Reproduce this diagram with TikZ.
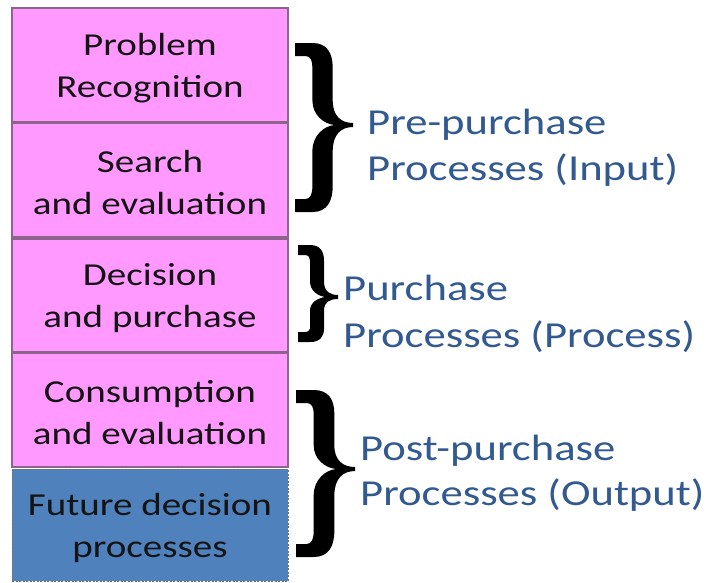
\documentclass[tikz,border=0pt]{standalone}
\usepackage{fontspec}
\setmainfont{Carlito}[FakeStretch=1.22]
\definecolor{boxpink}{RGB}{255,153,255}
\definecolor{boxline}{RGB}{140,100,140}
\definecolor{boxblue}{RGB}{79,129,189}
\definecolor{labelblue}{RGB}{50,90,145}
\definecolor{boxtext}{RGB}{20,20,20}
\newcommand{\drawbrace}[6]{%
 \pgfmathsetmacro{\bW}{#4-#1}%
 \pgfmathsetmacro{\xa}{#1+0.30*\bW}%
 \pgfmathsetmacro{\xb}{#1+0.65*\bW}%
 \pgfmathsetmacro{\xc}{#1+0.68*\bW}%
 \pgfmathsetmacro{\ct}{0.3*(#5-#2)}%
 \pgfmathsetmacro{\cb}{0.3*(#3-#5)}%
 \fill[black] (#1,#2) -- ({#1+0.3*\bW},#2)
   .. controls ({#1+0.55*\bW},#2) and (\xb,{#2+0.4*\ct}) .. (\xb,{#2+\ct})
   -- (\xb,{#5-\ct})
   .. controls (\xb,{#5-0.35*\ct}) and ({#1+0.8*\bW},{#5-2}) .. (#4,{#5-2})
   -- (#4,{#5+2})
   .. controls ({#1+0.8*\bW},{#5+2}) and (\xb,{#5+0.35*\cb}) .. (\xb,{#5+\cb})
   -- (\xb,{#3-\cb})
   .. controls (\xb,{#3-0.4*\cb}) and ({#1+0.55*\bW},#3) .. ({#1+0.3*\bW},#3)
   -- (#1,#3) -- (#1,{#3-#6}) -- ({#1+0.18*\bW},{#3-#6})
   .. controls ({#1+0.27*\bW},{#3-#6}) and (\xa,{#3-#6-0.2*\cb}) .. (\xa,{#3-\cb})
   -- (\xa,{#5+\cb})
   .. controls (\xa,{#5+0.4*\cb}) and ({#1+0.5*\bW},{#5+1}) .. (\xc,#5)
   .. controls ({#1+0.5*\bW},{#5-1}) and (\xa,{#5-0.4*\ct}) .. (\xa,{#5-\ct})
   -- (\xa,{#2+\ct})
   .. controls (\xa,{#2+#6+0.2*\ct}) and ({#1+0.27*\bW},{#2+#6}) .. ({#1+0.18*\bW},{#2+#6})
   -- (#1,{#2+#6}) -- cycle;
}
\begin{document}
\begin{tikzpicture}[x=1pt,y=-1pt,
  stagebox/.style={draw=boxline, line width=1.5pt, fill=boxpink,
    minimum width=276pt, minimum height=114pt, inner sep=0pt},
  futurebox/.style={stagebox, fill=boxblue, draw=black!55, line width=0.8pt,
    dash pattern=on 2pt off 1.5pt, minimum height=112pt},
  boxlabel/.style={inner sep=0pt, align=center, text=boxtext,
    font=\fontsize{32}{42}\selectfont, yshift=-3pt},
  labeltext/.style={anchor=base west, inner sep=0pt, text=labelblue,
    font=\fontsize{36.6}{46}\selectfont}]
\useasboundingbox (0,0) rectangle (706,582);
\fill[white] (0,0) rectangle (706,582);
\node[stagebox] (prob) at (150,65) {};
\node[stagebox] (search) at (150,180) {};
\node[stagebox, minimum height=113pt] (dec) at (150,295.5) {};
\node[stagebox] (cons) at (150,410) {};
\node[futurebox] (fut) at (150,525) {};
\node[boxlabel] (probt) at (prob.center) {Problem\\Recognition};
\node[boxlabel] (searcht) at (search.center) {Search\\and evaluation};
\node[boxlabel] (dect) at (dec.center) {Decision\\and purchase};
\node[boxlabel] (const) at (cons.center) {Consumption\\and evaluation};
\node[boxlabel] (futt) at (fut.center) {Future decision\\processes};
\drawbrace{295}{43}{212}{353}{125}{13}
\drawbrace{298}{245}{342}{338}{297}{10}
\drawbrace{296}{390}{557}{355}{469}{13}
\node[labeltext] (pre1) at (367,134) {Pre-purchase};
\node[labeltext] (pre2) at (367,180) {Processes (Input)};
\node[labeltext] (pur1) at (343,300) {Purchase};
\node[labeltext] (pur2) at (343,347) {Processes (Process)};
\node[labeltext] (post1) at (360,460) {Post-purchase};
\node[labeltext] (post2) at (360,505) {Processes (Output)};
\end{tikzpicture}
\end{document}
